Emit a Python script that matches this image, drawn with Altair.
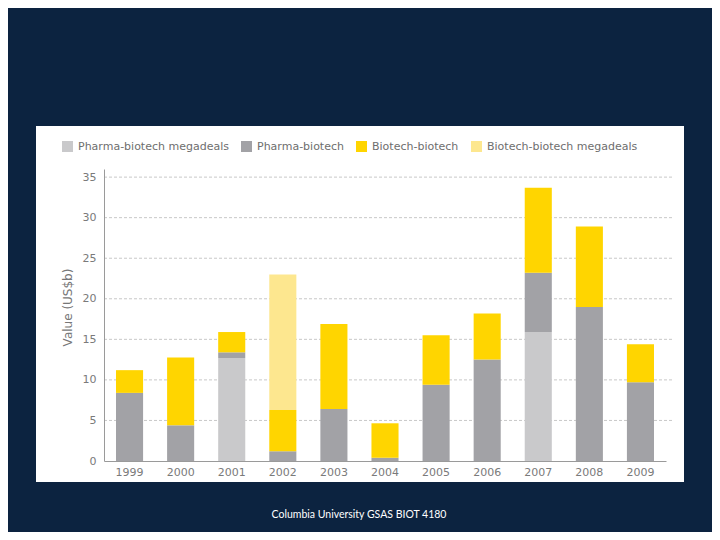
import altair as alt
import pandas as pd

years = ["1999", "2000", "2001", "2002", "2003", "2004", "2005", "2006", "2007", "2008", "2009"]
series = ["Pharma-biotech megadeals", "Pharma-biotech", "Biotech-biotech", "Biotech-biotech megadeals"]
pharma_mega = [0, 0, 12.7, 0, 0, 0, 0, 0, 15.9, 0, 0]
pharma = [8.4, 4.4, 0.7, 1.2, 6.4, 0.4, 9.4, 12.5, 7.3, 19.0, 9.7]
biotech = [2.8, 8.35, 2.5, 5.1, 10.5, 4.25, 6.1, 5.7, 10.5, 9.9, 4.7]
biotech_mega = [0, 0, 0, 16.7, 0, 0, 0, 0, 0, 0, 0]
colors = ["#c9c9cb", "#a2a2a6", "#ffd500", "#fde78f"]
y_ticks = [0, 5, 10, 15, 20, 25, 30, 35]
grid_values = [5, 10, 15, 20, 25, 30, 35]
footer = "Columbia University GSAS BIOT 4180"

rows = []
for i, (name, vals) in enumerate(zip(series, [pharma_mega, pharma, biotech, biotech_mega])):
    for yr, v in zip(years, vals):
        rows.append({"year": yr, "series": name, "value": v, "order": i})
df = pd.DataFrame(rows)
grid_df = pd.DataFrame({"v": grid_values})

W, H = 562, 292
FONT = "DejaVu Sans"

y_scale = alt.Scale(domain=[0, 36], nice=False)
y_axis = alt.Axis(
    values=y_ticks, grid=False, ticks=False, labelPadding=8,
    domainColor="#9a9a9a", labelColor="#7a7a7a", labelFont=FONT, labelFontSize=11,
    title="Value (US$b)", titleX=-30, titleY=138, titleAngle=270,
    titleFont=FONT, titleFontSize=12, titleFontWeight="normal", titleColor="#777777",
    zindex=1,
)

panel = alt.Chart(alt.Data(values=[{"a": 1}])).mark_rect(color="white").encode(
    x=alt.value(-68), x2=alt.value(580), y=alt.value(-43), y2=alt.value(313)
)

grid = alt.Chart(grid_df).mark_rule(color="#c8c8c8", strokeDash=[3, 2], strokeWidth=1).encode(
    y=alt.Y("v:Q", scale=y_scale, axis=y_axis),
    x=alt.value(0), x2=alt.value(568),
)

bars = alt.Chart(df).mark_bar().encode(
    x=alt.X("year:N", sort=years,
            scale=alt.Scale(paddingInner=0.47, paddingOuter=0.235),
            axis=alt.Axis(title=None, labelAngle=0, ticks=False, labelPadding=5, grid=False,
                          domainColor="#9a9a9a", labelColor="#7a7a7a", labelFont=FONT,
                          labelFontSize=11, zindex=1)),
    y=alt.Y("value:Q", stack="zero", scale=y_scale, axis=y_axis),
    color=alt.Color("series:N", scale=alt.Scale(domain=series, range=colors),
                    legend=alt.Legend(orient="none", legendX=-42, legendY=-28,
                                      direction="horizontal", columns=4, title=None,
                                      symbolType="square", symbolSize=121, symbolStrokeWidth=0,
                                      labelFont=FONT, labelFontSize=11, labelColor="#6e6e6e",
                                      columnPadding=12, labelOffset=5, padding=0)),
    order=alt.Order("order:Q", sort="ascending"),
)

text = alt.Chart(alt.Data(values=[{"t": footer}])).mark_text(
    color="white", font="Lato", fontSize=10.5, align="center", baseline="middle"
).encode(text="t:N", x=alt.value(255), y=alt.value(346))

chart = alt.layer(panel, grid, bars, text).properties(
    width=W, height=H,
    autosize=alt.AutoSizeParams(type="none"),
    padding={"left": 96, "top": 161, "right": 46, "bottom": 71},
    background="#0c2340",
).configure_view(strokeWidth=0)

chart.save("out.html", embed_options={"renderer": "svg", "actions": False})
